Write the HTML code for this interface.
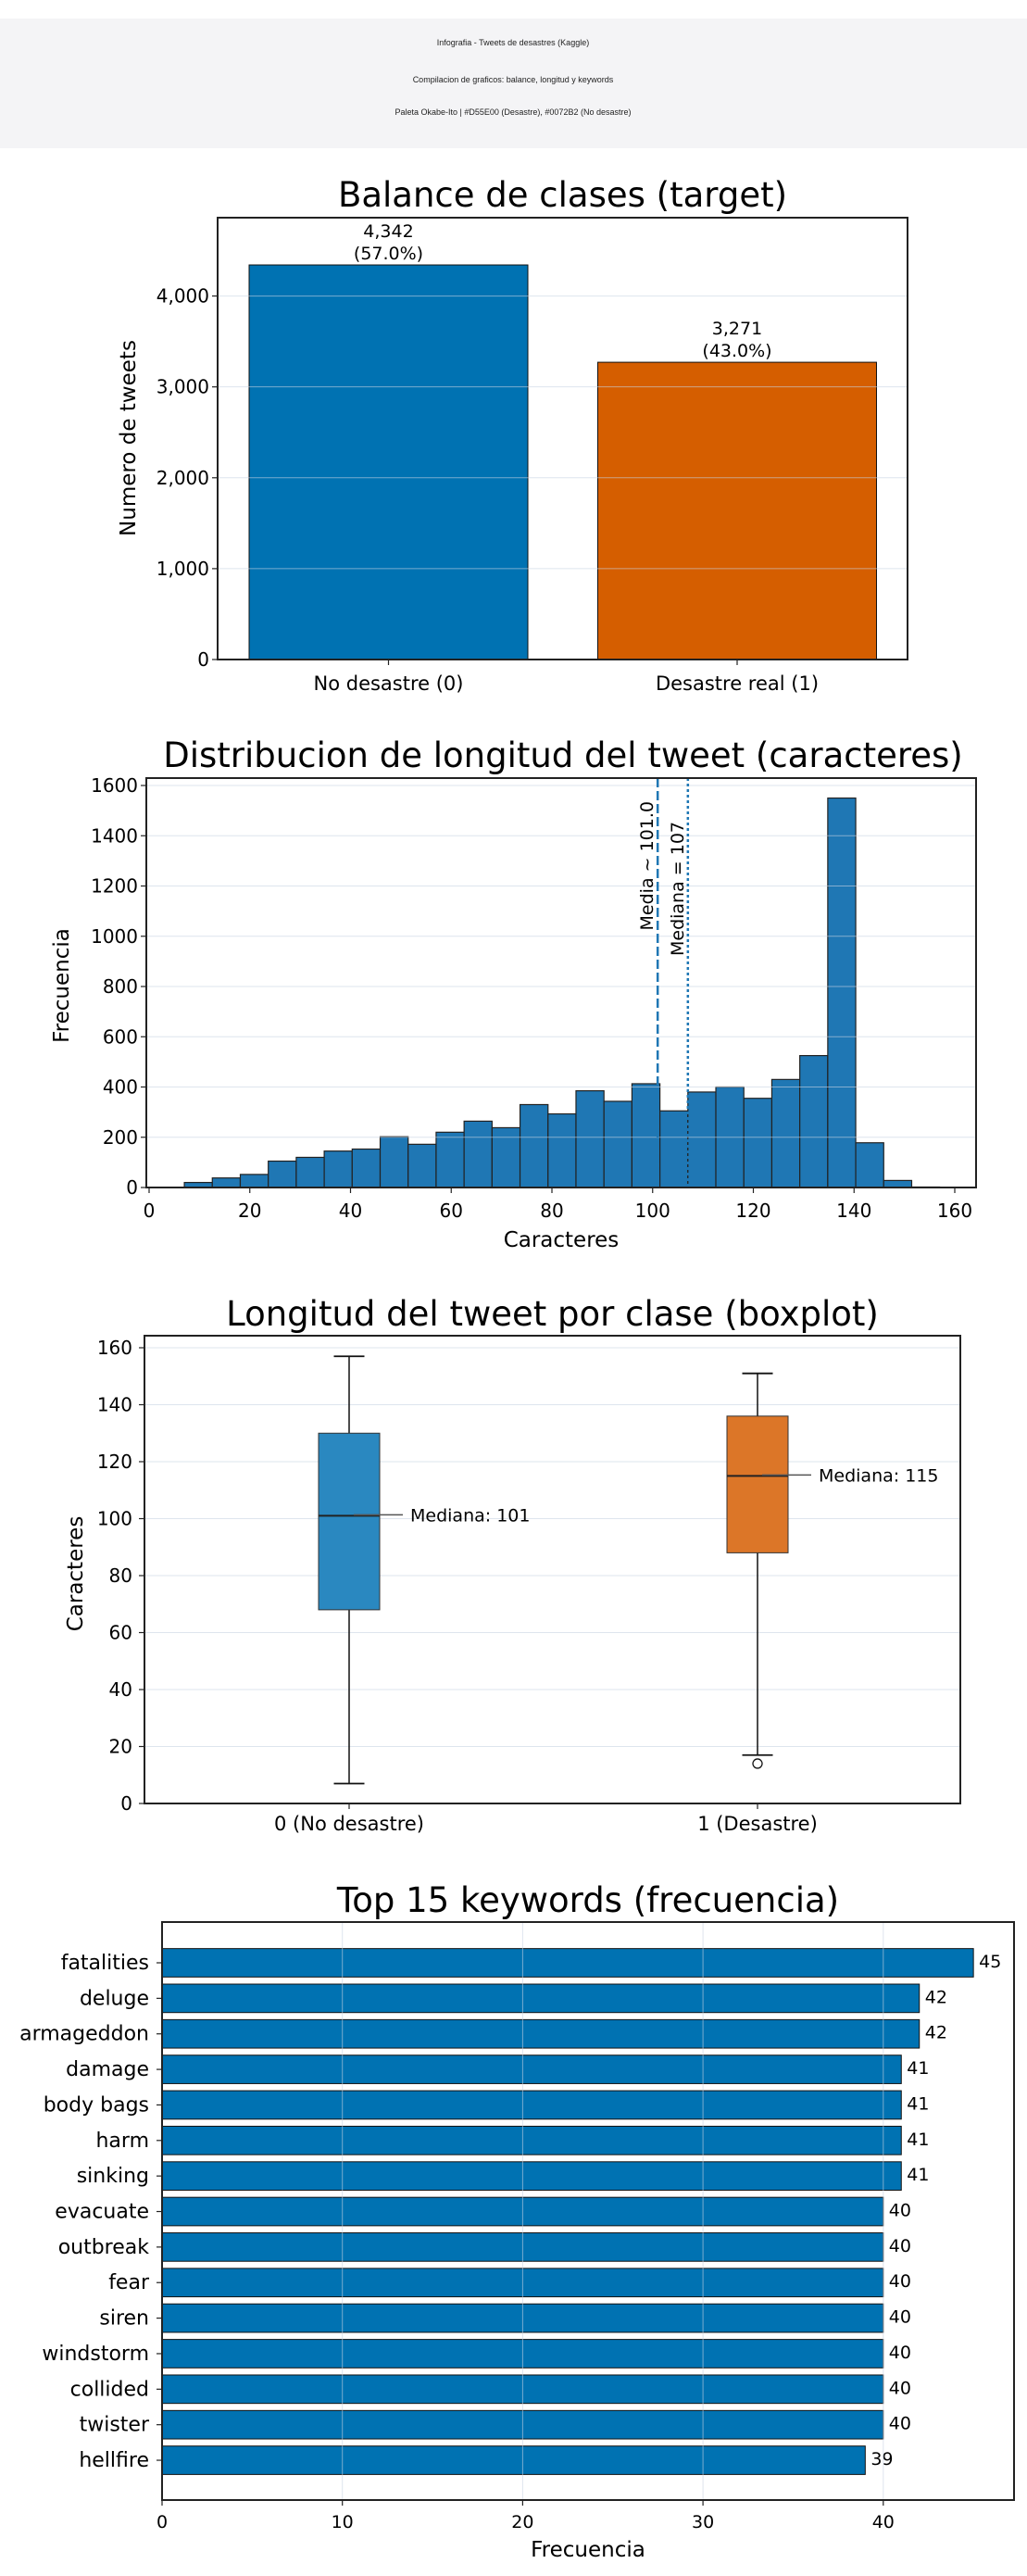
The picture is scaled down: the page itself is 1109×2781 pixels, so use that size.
<!DOCTYPE html>
<html><head><meta charset="utf-8">
<style>
html,body{margin:0;padding:0;background:#fff;}
body{width:1109px;height:2781px;overflow:hidden;}
svg{display:block;font-family:"DejaVu Sans","Liberation Sans",sans-serif;}
.hdr{font-family:"Liberation Sans",sans-serif;font-size:9px;fill:#222;}
</style></head>
<body>
<svg id="root" width="1109" height="2781" viewBox="0 0 1109 2781" xmlns="http://www.w3.org/2000/svg">
<rect x="0" y="20" width="1109" height="140" fill="#f4f4f6"/>
<text class="hdr" x="554" y="49" text-anchor="middle">Infografia - Tweets de desastres (Kaggle)</text>
<text class="hdr" x="554" y="89" text-anchor="middle">Compilacion de graficos: balance, longitud y keywords</text>
<text class="hdr" x="554" y="124" text-anchor="middle">Paleta Okabe-Ito | #D55E00 (Desastre), #0072B2 (No desastre)</text>
<g id="c1"></g>
<g id="c2"></g>
<g id="c3"></g>
<g id="c4"></g>
</svg>
<script>
// ---- data ----
const balanceCategories = ["No desastre (0)", "Desastre real (1)"];
const balanceCounts = [4342, 3271];
const balancePercents = ["57.0%", "43.0%"];
const balanceTicks = [0, 1000, 2000, 3000, 4000];

const histStart = 7;
const histBinWidth = 150 / 27;
const histCounts = [20,38,52,105,120,145,153,202,172,220,264,238,330,293,385,343,413,305,380,400,355,430,525,1550,178,28,2];
const histTicksX = [0,20,40,60,80,100,120,140,160];
const histTicksY = [0,200,400,600,800,1000,1200,1400,1600];
const histMean = 101.0;
const histMedian = 107;

const boxCategories = ["0 (No desastre)", "1 (Desastre)"];
const boxQ1 = [68, 88];
const boxMedian = [101, 115];
const boxQ3 = [130, 136];
const boxWhiskLow = [7, 17];
const boxWhiskHigh = [157, 151];
const boxOutliers = [[], [14]];
const boxTicks = [0,20,40,60,80,100,120,140,160];

const kwNames = ["fatalities","deluge","armageddon","damage","body bags","harm","sinking","evacuate","outbreak","fear","siren","windstorm","collided","twister","hellfire"];
const kwCounts = [45,42,42,41,41,41,41,40,40,40,40,40,40,40,39];
const kwTicks = [0,10,20,30,40];

// ---- helpers ----
const NS = "http://www.w3.org/2000/svg";
function mk(tag, attrs, parent){
  const el = document.createElementNS(NS, tag);
  for (const k in attrs) el.setAttribute(k, attrs[k]);
  parent.appendChild(el);
  return el;
}
function txt(str, attrs, parent){
  const el = mk("text", attrs, parent);
  el.textContent = str;
  return el;
}
const fmt = v => v.toLocaleString("en-US");
const GRID = "#c8d4e2";

// ---- chart 1: class balance ----
(function(){
  const g = document.getElementById("c1");
  const L=235,R=980,T=235,B=712, yMax=4862;
  const y = v => B - v/yMax*(B-T);
  const x = i => 419.5 + i*376.5;
  const bw = 301;
  const colors = ["#0072B2","#D55E00"];
  balanceCounts.forEach((v,i)=>{
    const b = mk("rect",{x:x(i)-bw/2,y:y(v),width:bw,height:B-y(v),fill:colors[i],stroke:"#111","stroke-width":1},g);
    
    
    const l1 = txt(fmt(v),{x:x(i),y:y(v)-30,"text-anchor":"middle","font-size":19},g);
    
    
    const l2 = txt("("+balancePercents[i]+")",{x:x(i),y:y(v)-6,"text-anchor":"middle","font-size":19},g);
    
    
    const tk = mk("line",{x1:x(i),x2:x(i),y1:B,y2:B+6,stroke:"#222","stroke-width":1.2},g);
    
    
    const tl = txt(balanceCategories[i],{x:x(i),y:745,"text-anchor":"middle","font-size":21},g);
    
    
  });
  for (const t of balanceTicks){
    const gl = mk("line",{x1:L,x2:R,y1:y(t),y2:y(t),stroke:GRID,"stroke-width":1,"stroke-opacity":0.6},g);
    
    
    const tk = mk("line",{x1:L-6,x2:L,y1:y(t),y2:y(t),stroke:"#222","stroke-width":1.2},g);
    
    
    const tl = txt(fmt(t),{x:L-9,y:y(t)+7,"text-anchor":"end","font-size":20},g);
    
    
  }
  const fr = mk("rect",{x:L,y:T,width:R-L,height:B-T,fill:"none",stroke:"#222","stroke-width":2},g);
  
  
  const ti = txt("Balance de clases (target)",{x:(L+R)/2,y:223,"text-anchor":"middle","font-size":37},g);
  
  
  const yl = txt("Numero de tweets",{x:0,y:0,"text-anchor":"middle","font-size":23,transform:"translate(146,473) rotate(-90)"},g);
  
  
})();

// ---- chart 2: histogram ----
(function(){
  const g = document.getElementById("c2");
  const L=158,R=1054,T=840,B=1282;
  const x = v => 161 + v*5.4375;
  const y = v => B - v*0.27125;
  histCounts.forEach((c,i)=>{
    const x0 = x(histStart + i*histBinWidth), x1 = x(histStart + (i+1)*histBinWidth);
    const b = mk("rect",{x:x0,y:y(c),width:x1-x0,height:B-y(c),fill:"#1f77b4",stroke:"#222","stroke-width":1.2},g);
    
    
  });
  for (const t of histTicksY){
    const gl = mk("line",{x1:L,x2:R,y1:y(t),y2:y(t),stroke:GRID,"stroke-width":1,"stroke-opacity":0.6},g);
    
    
    const tk = mk("line",{x1:L-6,x2:L,y1:y(t),y2:y(t),stroke:"#222","stroke-width":1.2},g);
    
    
    const tl = txt(String(t),{x:L-9,y:y(t)+7,"text-anchor":"end","font-size":20},g);
    
    
  }
  const ml = mk("line",{x1:x(histMean),x2:x(histMean),y1:T,y2:B,stroke:"#1f77b4","stroke-width":2.5,"stroke-dasharray":"10,4"},g);
  
  
  const dl = mk("line",{x1:x(histMedian),x2:x(histMedian),y1:T,y2:B,stroke:"#1f77b4","stroke-width":2.5,"stroke-dasharray":"3,3"},g);
  
  
  const mt = txt("Media ~ "+histMean.toFixed(1),{x:0,y:0,"text-anchor":"end","font-size":19,transform:"translate("+(x(histMean)-5)+",865) rotate(-90)"},g);
  
  
  const dt = txt("Mediana = "+histMedian,{x:0,y:0,"text-anchor":"end","font-size":19,transform:"translate("+(x(histMedian)-5)+",887) rotate(-90)"},g);
  
  
  for (const t of histTicksX){
    const tk = mk("line",{x1:x(t),x2:x(t),y1:B,y2:B+6,stroke:"#222","stroke-width":1.2},g);
    
    
    const tl = txt(String(t),{x:x(t),y:1314,"text-anchor":"middle","font-size":20},g);
    
    
  }
  const fr = mk("rect",{x:L,y:T,width:R-L,height:B-T,fill:"none",stroke:"#222","stroke-width":2},g);
  
  
  const ti = txt("Distribucion de longitud del tweet (caracteres)",{x:(L+R)/2+2,y:828,"text-anchor":"middle","font-size":37},g);
  
  
  const xl = txt("Caracteres",{x:(L+R)/2,y:1346,"text-anchor":"middle","font-size":23},g);
  
  
  const yl = txt("Frecuencia",{x:0,y:0,"text-anchor":"middle","font-size":23,transform:"translate(74,1064) rotate(-90)"},g);
  
  
})();

// ---- chart 3: boxplot ----
(function(){
  const g = document.getElementById("c3");
  const L=156,R=1037,T=1442,B=1947;
  const y = v => B - v*3.075;
  const x = p => 377 + p*441;
  const colors = ["#2a88c0","#dc7628"];
  for (const t of boxTicks){
    const gl = mk("line",{x1:L,x2:R,y1:y(t),y2:y(t),stroke:GRID,"stroke-width":1,"stroke-opacity":0.6},g);
    
    
    const tk = mk("line",{x1:L-6,x2:L,y1:y(t),y2:y(t),stroke:"#222","stroke-width":1.2},g);
    
    
    const tl = txt(String(t),{x:L-13,y:y(t)+7,"text-anchor":"end","font-size":20},g);
    
    
  }
  boxCategories.forEach((c,i)=>{
    const cx = x(i), bw = 66, cw = 33;
    const w1 = mk("line",{x1:cx,x2:cx,y1:y(boxWhiskHigh[i]),y2:y(boxQ3[i]),stroke:"#111","stroke-width":1.5},g);
    
    
    const w2 = mk("line",{x1:cx,x2:cx,y1:y(boxQ1[i]),y2:y(boxWhiskLow[i]),stroke:"#111","stroke-width":1.5},g);
    
    
    const c1 = mk("line",{x1:cx-cw/2,x2:cx+cw/2,y1:y(boxWhiskHigh[i]),y2:y(boxWhiskHigh[i]),stroke:"#111","stroke-width":1.8},g);
    
    
    const c2 = mk("line",{x1:cx-cw/2,x2:cx+cw/2,y1:y(boxWhiskLow[i]),y2:y(boxWhiskLow[i]),stroke:"#111","stroke-width":1.8},g);
    
    
    const bx = mk("rect",{x:cx-bw/2,y:y(boxQ3[i]),width:bw,height:y(boxQ1[i])-y(boxQ3[i]),fill:colors[i],stroke:"#333","stroke-width":1},g);
    
    
    const md = mk("line",{x1:cx-bw/2,x2:cx+bw/2,y1:y(boxMedian[i]),y2:y(boxMedian[i]),stroke:"#222","stroke-width":2},g);
    
    
    const al = mk("line",{x1:cx+5,x2:cx+58,y1:y(boxMedian[i])-1,y2:y(boxMedian[i])-1,stroke:"#555","stroke-width":1.5},g);
    
    
    const at = txt("Mediana: "+boxMedian[i],{x:cx+66,y:y(boxMedian[i])+6,"font-size":19},g);
    
    
    boxOutliers[i].forEach(o=>{
      const oc = mk("circle",{cx:cx,cy:y(o),r:5,fill:"none",stroke:"#111","stroke-width":1.3},g);
      
      
    });
    const tk = mk("line",{x1:cx,x2:cx,y1:B,y2:B+6,stroke:"#222","stroke-width":1.2},g);
    
    
    const tl = txt(c,{x:cx,y:1976,"text-anchor":"middle","font-size":21},g);
    
    
  });
  const fr = mk("rect",{x:L,y:T,width:R-L,height:B-T,fill:"none",stroke:"#222","stroke-width":2},g);
  
  
  const ti = txt("Longitud del tweet por clase (boxplot)",{x:(L+R)/2,y:1431,"text-anchor":"middle","font-size":37},g);
  
  
  const yl = txt("Caracteres",{x:0,y:0,"text-anchor":"middle","font-size":23,transform:"translate(89,1699) rotate(-90)"},g);
  
  
})();

// ---- chart 4: keywords ----
(function(){
  const g = document.getElementById("c4");
  const L=175,R=1095,T=2075,B=2699;
  const x = v => L + v*19.47;
  const y = i => 2119 + i*38.36;
  const bh = 30.7;
  kwNames.forEach((n,i)=>{
    const b = mk("rect",{x:L,y:y(i)-bh/2,width:x(kwCounts[i])-L,height:bh,fill:"#0072B2",stroke:"#111","stroke-width":1},g);
    
    
    const vl = txt(String(kwCounts[i]),{x:x(kwCounts[i])+6,y:y(i)+5,"font-size":19},g);
    
    
    const tk = mk("line",{x1:L-6,x2:L,y1:y(i),y2:y(i),stroke:"#222","stroke-width":1.2},g);
    
    
    const tl = txt(n,{x:L-14,y:y(i)+7,"text-anchor":"end","font-size":22},g);
    
    
  });
  for (const t of kwTicks){
    const gl = mk("line",{x1:x(t),x2:x(t),y1:T,y2:B,stroke:GRID,"stroke-width":1,"stroke-opacity":0.6},g);
    
    
    const tk = mk("line",{x1:x(t),x2:x(t),y1:B,y2:B+6,stroke:"#222","stroke-width":1.2},g);
    
    
    const tl = txt(String(t),{x:x(t),y:2729,"text-anchor":"middle","font-size":19},g);
    
    
  }
  const fr = mk("rect",{x:L,y:T,width:R-L,height:B-T,fill:"none",stroke:"#222","stroke-width":2},g);
  
  
  const ti = txt("Top 15 keywords (frecuencia)",{x:(L+R)/2,y:2064,"text-anchor":"middle","font-size":37},g);
  
  
  const xl = txt("Frecuencia",{x:(L+R)/2,y:2760,"text-anchor":"middle","font-size":23},g);
  
  
})();
</script>
</body></html>
